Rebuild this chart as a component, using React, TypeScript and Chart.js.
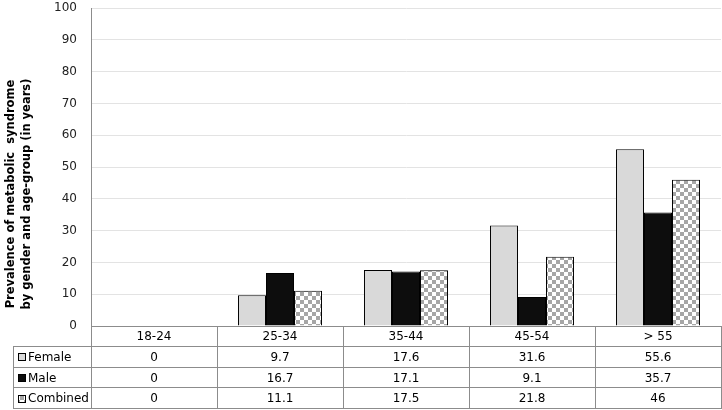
import React, { useEffect, useRef } from "react";
import { Chart, registerables } from "chart.js";

Chart.register(...registerables);

const categories = ["18-24", "25-34", "35-44", "45-54", "> 55"];
const femaleValues = [0, 9.7, 17.6, 31.6, 55.6];
const maleValues = [0, 16.7, 17.1, 9.1, 35.7];
const combinedValues = [0, 11.1, 17.5, 21.8, 46];
const seriesNames = ["Female", "Male", "Combined"];
const yTitleLines = ["Prevalence of metabolic  syndrome", "by gender and age-group (in years)"];

function makeChecker(): CanvasPattern | string {
  const c = document.createElement("canvas");
  c.width = 8;
  c.height = 8;
  const g = c.getContext("2d");
  if (!g) return "#aaa";
  g.fillStyle = "#ffffff";
  g.fillRect(0, 0, 8, 8);
  g.fillStyle = "#a6a6a6";
  g.fillRect(0, 0, 4, 4);
  g.fillRect(4, 4, 4, 4);
  const p = g.createPattern(c, "repeat");
  return p || "#aaa";
}

export default function App() {
  const ref = useRef<HTMLCanvasElement | null>(null);
  useEffect(() => {
    document.body.style.margin = "0";
    const canvas = ref.current;
    if (!canvas) return;
    const checker = makeChecker();
    const fills: (string | CanvasPattern)[] = ["#d9d9d9", "#0d0d0d", checker];
    const seriesData = [femaleValues, maleValues, combinedValues];
    const font = "DejaVu Sans, Verdana, sans-serif";

    const tablePlugin = {
      id: "tablePlugin",
      afterDraw(chart: any) {
        const ctx = chart.ctx as CanvasRenderingContext2D;
        const area = chart.chartArea;
        const xs = chart.scales.x;
        const left = area.left;
        const right = area.right;
        const top = area.bottom;
        const rowH = 20.75;
        const legendLeft = 13;
        const bottom = top + rowH * 4;
        const catW = (right - left) / categories.length;
        ctx.save();
        ctx.strokeStyle = "#8c8c8c";
        ctx.lineWidth = 1;
        const line = (x1: number, y1: number, x2: number, y2: number) => {
          ctx.beginPath();
          ctx.moveTo(x1, y1);
          ctx.lineTo(x2, y2);
          ctx.stroke();
        };
        line(left, Math.round(top) + 0.5, right, Math.round(top) + 0.5);
        for (let r = 1; r <= 4; r++) {
          const y = Math.round(top + rowH * r) - 0.5;
          line(legendLeft, y, right, y);
        }
        for (let i = 0; i <= categories.length; i++) {
          const x = Math.round(left + catW * i) + 0.5;
          line(x, top, x, bottom);
        }
        const lx = legendLeft + 0.5;
        line(lx, top + rowH, lx, bottom);

        ctx.font = "12px " + font;
        ctx.fillStyle = "#000";
        ctx.textAlign = "center";
        ctx.textBaseline = "middle";
        categories.forEach((c, i) => {
          const cx = xs.getPixelForValue(i);
          ctx.fillText(c, cx, top + rowH / 2 + 0.5);
          seriesData.forEach((arr, s) => {
            ctx.fillText(String(arr[i]), cx, top + rowH * (s + 1.5) + 0.5);
          });
        });
        ctx.textAlign = "left";
        seriesNames.forEach((n, s) => {
          const cy = top + rowH * (s + 1.5);
          const sx = 18;
          const sy = Math.round(cy - 4);
          ctx.fillStyle = fills[s] as any;
          ctx.fillRect(sx, sy, 8, 8);
          ctx.strokeStyle = "#000";
          ctx.strokeRect(sx + 0.5, sy + 0.5, 7, 7);
          ctx.fillStyle = "#000";
          ctx.fillText(n, 28, cy + 0.5);
        });

        ctx.font = "bold 11.5px " + font;
        ctx.textAlign = "center";
        ctx.textBaseline = "middle";
        const cy = 194;
        [11, 27].forEach((x, i) => {
          ctx.save();
          ctx.translate(x, cy);
          ctx.rotate(-Math.PI / 2);
          ctx.fillText(yTitleLines[i], 0, 0);
          ctx.restore();
        });
        ctx.restore();
      },
    };

    const chart = new Chart(canvas, {
      type: "bar",
      data: {
        labels: categories,
        datasets: seriesNames.map((n, s) => ({
          label: n,
          data: seriesData[s],
          backgroundColor: fills[s] as any,
          borderColor: "#000000",
          borderWidth: 1,
          categoryPercentage: 0.667,
          barPercentage: 1.0,
        })),
      },
      options: {
        animation: false,
        responsive: false,
        maintainAspectRatio: false,
        layout: { padding: { top: 8, right: 1, bottom: 84, left: 0 } },
        plugins: { legend: { display: false }, tooltip: { enabled: false } },
        scales: {
          x: { display: false },
          y: {
            min: 0,
            max: 100,
            afterFit(scale: any) {
              scale.width = 91;
              scale.paddingTop = 0;
              scale.paddingBottom = 0;
            },
            ticks: {
              stepSize: 10,
              padding: 14,
              color: "#222",
              font: { family: font, size: 12 },
            },
            grid: { color: "#e3e3e3", drawTicks: false },
            border: { color: "#8c8c8c" },
          },
        },
      },
      plugins: [tablePlugin],
    });
    return () => chart.destroy();
  }, []);
  return <canvas ref={ref} width={722} height={410} style={{ display: "block" }} />;
}
